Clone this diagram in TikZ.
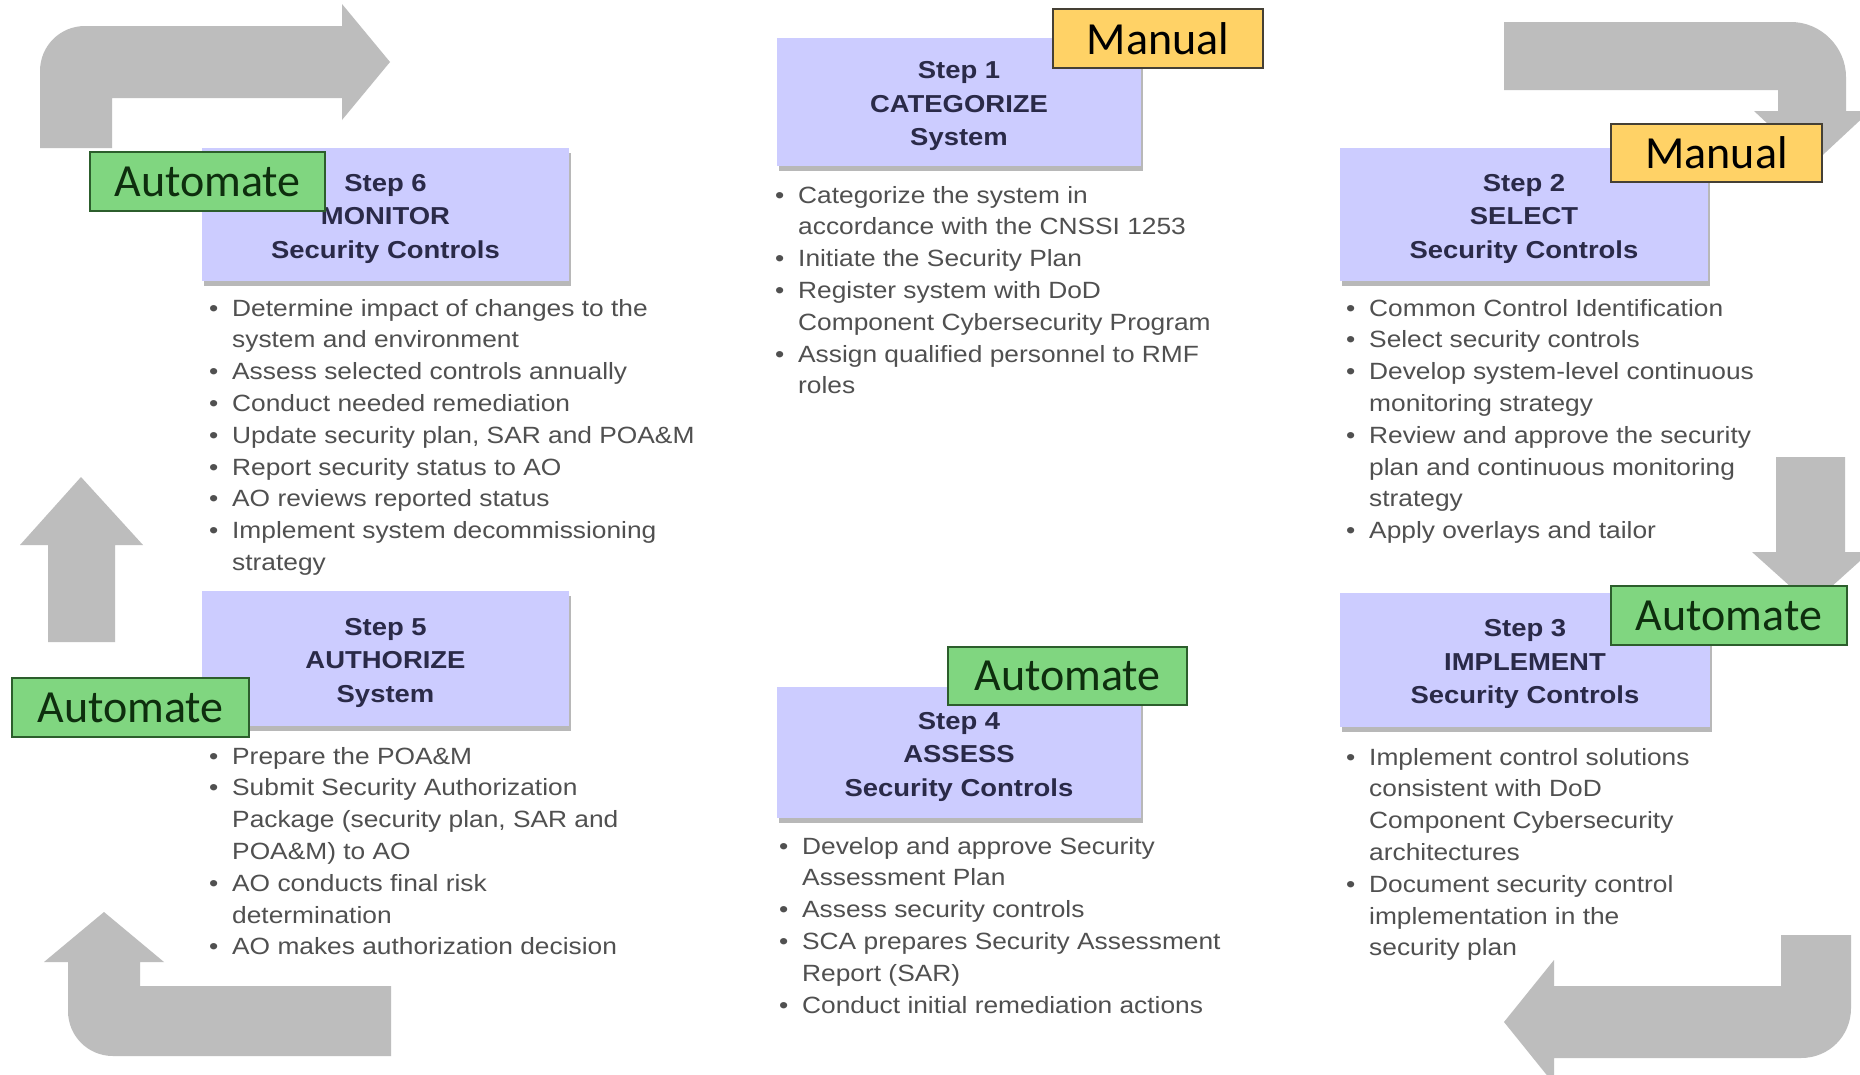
\documentclass[tikz,border=0pt]{standalone}
\usepackage{fontspec}
\setmainfont[FakeStretch=1.12]{Liberation Sans}
\newfontfamily\labfont{Carlito}
\usetikzlibrary{shadows}
\definecolor{arrowgray}{HTML}{BDBDBD}
\definecolor{lav}{HTML}{CCCCFF}
\definecolor{titlecol}{HTML}{2A2A48}
\definecolor{bulcol}{HTML}{505050}
\definecolor{mfill}{HTML}{FFD266}
\definecolor{mborder}{HTML}{454035}
\definecolor{afill}{HTML}{80D680}
\definecolor{aborder}{HTML}{2C5E2C}
\definecolor{atext}{HTML}{0E2E0E}
\newcommand\bul{\makebox[23pt][l]{\textbullet}}
\newcommand\ind{\hspace*{23pt}}
\tikzset{
 stepbox/.style={fill=lav, draw=none, inner sep=0pt,
   drop shadow={shadow xshift=1.5pt, shadow yshift=-5pt, fill=black, opacity=0.28}},
 steptitle/.style={inner sep=0pt, align=center, text=titlecol,
   font=\bfseries\fontsize{24.5}{33.5}\selectfont},
 manualtag/.style={fill=mfill, draw=mborder, line width=2pt, inner sep=0pt,
   font=\labfont\fontsize{46}{50}\selectfont, text=black},
 autotag/.style={fill=afill, draw=aborder, line width=2pt, inner sep=0pt,
   font=\labfont\fontsize{46}{50}\selectfont, text=atext},
 bullets/.style={anchor=base west, inner sep=0pt, text=bulcol,
   font=\fontsize{23.5}{31.8}\selectfont},
 bigarrow/.style={fill=arrowgray}
}
\begin{document}
\begin{tikzpicture}[x=1pt,y=-1pt]
\useasboundingbox (0,0) rectangle (1860,1074);
\fill[white] (0,0) rectangle (1860,1074);
\clip (0,0) rectangle (1860,1074);

% ---------- big grey arrows ----------
% top left
\fill[bigarrow] (40,148) -- (40,71) .. controls (40,46) and (60,26) .. (85,26)
  -- (342,26) -- (342,4) -- (390,62) -- (342,120) -- (342,98) -- (112,98) -- (112,148) -- cycle;
% top right
\fill[bigarrow] (1504,22) -- (1791,22) .. controls (1821,22) and (1846,47) .. (1846,77)
  -- (1846,111) -- (1870,111) -- (1812,165) -- (1754,111) -- (1778,111) -- (1778,90) -- (1504,90) -- cycle;
% right, down
\fill[bigarrow] (1776,457) -- (1845,457) -- (1845,552) -- (1870,552) -- (1811,605)
  -- (1752,552) -- (1776,552) -- cycle;
% bottom right
\fill[bigarrow] (1781,935) -- (1851,935) -- (1851,1008) .. controls (1851,1036) and (1829,1058) .. (1801,1058)
  -- (1554,1058) -- (1554,1084) -- (1504,1022) -- (1554,960) -- (1554,986) -- (1781,986) -- cycle;
% bottom left
\fill[bigarrow] (391,986) -- (391,1056) -- (113,1056) .. controls (88,1056) and (68,1036) .. (68,1011)
  -- (68,962) -- (44,962) -- (104,912) -- (164,962) -- (140,962) -- (140,986) -- cycle;
% left, up
\fill[bigarrow] (48,642) -- (48,545) -- (20,545) -- (81,477) -- (143,545) -- (115,545) -- (115,642) -- cycle;

% ---------- step boxes ----------
\node[stepbox, minimum width=364pt, minimum height=128pt] (s1) at (959,102) {};
\node[stepbox, minimum width=368pt, minimum height=133pt] (s2) at (1524,214.5) {};
\node[stepbox, minimum width=370pt, minimum height=134pt] (s3) at (1525,660) {};
\node[stepbox, minimum width=364pt, minimum height=131pt] (s4) at (959,752.5) {};
\node[stepbox, minimum width=367pt, minimum height=135pt] (s5) at (385.5,658.5) {};
\node[stepbox, minimum width=367pt, minimum height=133pt] (s6) at (385.5,214.5) {};

\node[steptitle] (t1) at ([yshift=-4pt]s1.center) {Step 1\\CATEGORIZE\\System};
\node[steptitle] (t2) at ([yshift=-4pt]s2.center) {Step 2\\SELECT\\Security Controls};
\node[steptitle] (t3) at ([yshift=-4pt]s3.center) {Step 3\\IMPLEMENT\\Security Controls};
\node[steptitle] (t4) at ([yshift=-4pt]s4.center) {Step 4\\ASSESS\\Security Controls};
\node[steptitle] (t5) at ([yshift=-4pt]s5.center) {Step 5\\AUTHORIZE\\System};
\node[steptitle] (t6) at ([yshift=-4pt]s6.center) {Step 6\\MONITOR\\Security Controls};

% ---------- tags ----------
\node[manualtag, minimum width=210pt, minimum height=59pt] (m1) at (1158,38.5) {Manual};
\node[manualtag, minimum width=211pt, minimum height=58pt] (m2) at (1716.5,153) {Manual};
\node[autotag, minimum width=236pt, minimum height=59pt] (a3) at (1729,615.5) {Automate};
\node[autotag, minimum width=239pt, minimum height=58pt] (a4) at (1067.5,676) {Automate};
\node[autotag, minimum width=237pt, minimum height=59pt] (a5) at (130.5,707.5) {Automate};
\node[autotag, minimum width=235pt, minimum height=59pt] (a6) at (207.5,181.5) {Automate};

% ---------- bullet lists ----------
\node[bullets] (l1) at (775,203) {\begin{tabular}[t]{@{}l@{}}
\bul Categorize the system in\\
\ind accordance with the CNSSI 1253\\
\bul Initiate the Security Plan\\
\bul Register system with DoD\\
\ind Component Cybersecurity Program\\
\bul Assign qualified personnel to RMF\\
\ind roles
\end{tabular}};

\node[bullets] (l2) at (1346,316) {\begin{tabular}[t]{@{}l@{}}
\bul Common Control Identification\\
\bul Select security controls\\
\bul Develop system-level continuous\\
\ind monitoring strategy\\
\bul Review and approve the security\\
\ind plan and continuous monitoring\\
\ind strategy\\
\bul Apply overlays and tailor
\end{tabular}};

\node[bullets] (l3) at (1346,765) {\begin{tabular}[t]{@{}l@{}}
\bul Implement control solutions\\
\ind consistent with DoD\\
\ind Component Cybersecurity\\
\ind architectures\\
\bul Document security control\\
\ind implementation in the\\
\ind security plan
\end{tabular}};

\node[bullets] (l4) at (779,854) {\begin{tabular}[t]{@{}l@{}}
\bul Develop and approve Security\\
\ind Assessment Plan\\
\bul Assess security controls\\
\bul SCA prepares Security Assessment\\
\ind Report (SAR)\\
\bul Conduct initial remediation actions
\end{tabular}};

\node[bullets] (l5) at (209,764) {\begin{tabular}[t]{@{}l@{}}
\bul Prepare the POA\&M\\
\bul Submit Security Authorization\\
\ind Package (security plan, SAR and\\
\ind POA\&M) to AO\\
\bul AO conducts final risk\\
\ind determination\\
\bul AO makes authorization decision
\end{tabular}};

\node[bullets] (l6) at (209,316) {\begin{tabular}[t]{@{}l@{}}
\bul Determine impact of changes to the\\
\ind system and environment\\
\bul Assess selected controls annually\\
\bul Conduct needed remediation\\
\bul Update security plan, SAR and POA\&M\\
\bul Report security status to AO\\
\bul AO reviews reported status\\
\bul Implement system decommissioning\\
\ind strategy
\end{tabular}};
\end{tikzpicture}
\end{document}
